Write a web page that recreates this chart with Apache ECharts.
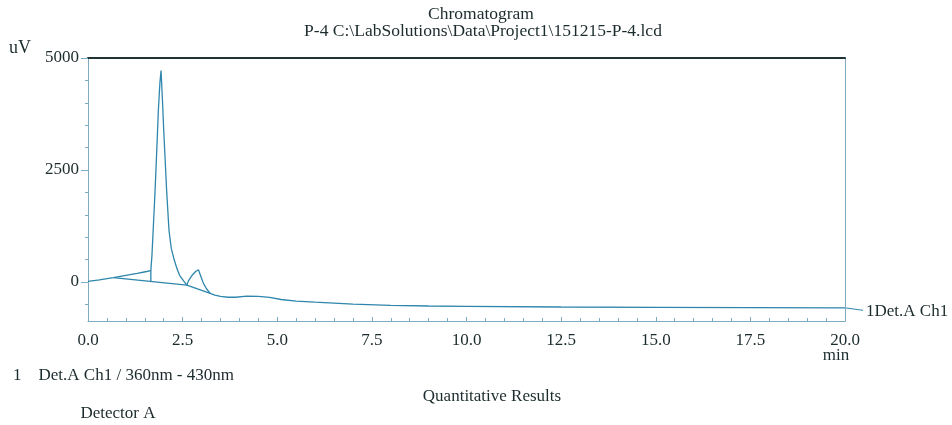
<!DOCTYPE html>
<html>
<head>
<meta charset="utf-8">
<script src="https://cdn.jsdelivr.net/npm/echarts@6/dist/echarts.min.js"></script>
<style>
  html, body { margin: 0; padding: 0; background: #ffffff; }
  #chart { width: 952px; height: 425px; }
</style>
</head>
<body>
<div id="chart"></div>
<script>
// Detector A, channel 1 trace (retention time in min, response in uV)
const timeMin = [
  0, 0.3, 0.67, 1.0, 1.3, 1.55, 1.66, 1.69, 1.73, 1.77, 1.81, 1.86, 1.90, 1.93,
  1.97, 2.00, 2.04, 2.08, 2.14, 2.20, 2.28, 2.35, 2.42, 2.52, 2.61,
  2.65, 2.75, 2.85, 2.92, 2.98, 3.05, 3.13, 3.23,
  3.35, 3.5, 3.7, 3.9, 4.2, 4.5, 4.8, 5.1, 5.5, 6.0, 7.0, 8.0, 9.0, 10.0,
  12.5, 15.0, 17.5, 20.0
];
const signalUV = [
  15, 50, 100, 150, 195, 235, 255, 600, 1300, 2000, 2800, 3850, 4450, 4720,
  4000, 3400, 2700, 2000, 1150, 750, 490, 300, 150, 30, -70,
  20, 150, 240, 270, 130, -30, -150, -255,
  -290, -320, -340, -340, -315, -320, -345, -390, -425, -450, -495, -520, -535, -545,
  -558, -566, -572, -576
];

// Integration baselines and the drop line between the shoulder and the main peak
const baselineTime = [0.67, 2.61];
const baselineUV = [100, -70];
const dropTime = [1.66, 1.66];
const dropUV = [255, 13];
const smallBaseTime = [2.61, 3.23];
const smallBaseUV = [-70, -255];

// Axis ranges and tick values
const xMin = 0, xMax = 20, xStep = 2.5;
const yMin = -870, yMax = 5000;
const yLabelTicks = [0, 2500, 5000];
const yMinorTicks = [-500, 500, 1000, 1500, 2000, 3000, 3500, 4000, 4500];

const titleLine1 = 'Chromatogram';
const titleLine2 = 'P-4 C:\\LabSolutions\\Data\\Project1\\151215-P-4.lcd';
const traceName = '1Det.A Ch1';
const channelNote = '1    Det.A Ch1 / 360nm - 430nm';

const FONT = '"Liberation Serif", "Times New Roman", serif';
const TEXT = '#1c2b2d';
const TRACE = '#2f86ac';
const AXIS = '#7eabc4';

const pairs = (xs, ys) => xs.map((x, i) => [x, ys[i]]);

const chart = echarts.init(document.getElementById('chart'), null, { renderer: 'canvas' });

const lineSeries = (data) => ({
  type: 'line',
  xAxisIndex: 0,
  yAxisIndex: 0,
  data: data,
  showSymbol: false,
  silent: true,
  animation: false,
  lineStyle: { color: TRACE, width: 1.3 }
});

const txt = (text, x, y, align, size) => ({
  type: 'text',
  x: x, y: y,
  style: {
    text: text, fill: TEXT, font: (size || 17) + 'px ' + FONT,
    textAlign: align, textVerticalAlign: 'middle'
  }
});

chart.setOption({
  backgroundColor: '#ffffff',
  animation: false,
  grid: { left: 88, right: 107, top: 58, bottom: 104, containLabel: false },
  xAxis: [
    {
      type: 'value', position: 'bottom', min: xMin, max: xMax, interval: xStep,
      axisLine: { show: true, onZero: false, lineStyle: { color: AXIS, width: 1 } },
      axisTick: { show: true, inside: true, length: 4, lineStyle: { color: AXIS } },
      minorTick: { show: true, splitNumber: 5, length: 3, lineStyle: { color: AXIS } },
      axisLabel: {
        show: true, margin: 11, color: TEXT, fontFamily: FONT, fontSize: 17,
        showMinLabel: true, showMaxLabel: true,
        formatter: (v) => v.toFixed(1)
      },
      splitLine: { show: false }
    },
    {
      type: 'value', position: 'top', min: xMin, max: xMax,
      axisLine: { show: true, onZero: false, lineStyle: { color: '#1f3335', width: 2 } },
      axisTick: { show: false }, axisLabel: { show: false }, splitLine: { show: false }
    }
  ],
  yAxis: [
    {
      type: 'value', position: 'left', min: yMin, max: yMax,
      axisLine: { show: true, onZero: false, lineStyle: { color: AXIS, width: 1 } },
      axisTick: { show: true, length: 7, customValues: yLabelTicks, lineStyle: { color: AXIS } },
      axisLabel: {
        show: true, margin: 9, color: TEXT, fontFamily: FONT, fontSize: 17,
        customValues: yLabelTicks,
        formatter: (v) => String(v)
      },
      splitLine: { show: false }
    },
    {
      type: 'value', position: 'left', min: yMin, max: yMax,
      axisLine: { show: false, onZero: false },
      axisTick: { show: true, length: 3, customValues: yMinorTicks, lineStyle: { color: AXIS } },
      axisLabel: { show: false }, splitLine: { show: false }
    },
    {
      type: 'value', position: 'right', min: yMin, max: yMax,
      axisLine: { show: true, onZero: false, lineStyle: { color: AXIS, width: 1 } },
      axisTick: { show: false }, axisLabel: { show: false }, splitLine: { show: false }
    }
  ],
  series: [
    lineSeries(pairs(timeMin, signalUV)),
    lineSeries(pairs(baselineTime, baselineUV)),
    lineSeries(pairs(dropTime, dropUV)),
    lineSeries(pairs(smallBaseTime, smallBaseUV))
  ]
});

// Trace name with its leader line, anchored at the last point of the trace
const lastPt = chart.convertToPixel({ gridIndex: 0 },
  [timeMin[timeMin.length - 1], signalUV[signalUV.length - 1]]);

chart.setOption({
  graphic: [
    txt(titleLine1, 481, 14, 'center', 17.5),
    txt(titleLine2, 483, 31, 'center', 17.5),
    txt('uV', 9, 48, 'left', 18),
    txt('min', 836, 356, 'center'),
    txt(channelNote, 13, 376, 'left'),
    txt('Quantitative Results', 492, 397, 'center'),
    txt('Detector A', 118, 414, 'center'),
    {
      type: 'line',
      shape: { x1: lastPt[0], y1: lastPt[1], x2: lastPt[0] + 18, y2: lastPt[1] + 2.5 },
      style: { stroke: TRACE, lineWidth: 1 }
    },
    txt(traceName, lastPt[0] + 21, lastPt[1] + 4, 'left')
  ]
});
</script>
</body>
</html>
